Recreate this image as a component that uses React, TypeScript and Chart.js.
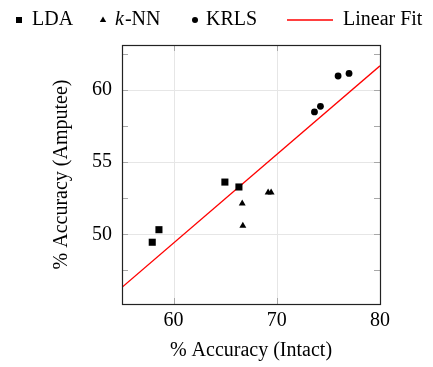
import React, { useEffect, useRef } from 'react';
import { Chart, registerables } from 'chart.js';
Chart.register(...registerables);

const ldaX = [57.93, 58.58, 64.97, 66.33];
const ldaY = [49.45, 50.32, 53.62, 53.28];
const knnX = [66.65, 66.71, 69.16, 69.45];
const knnY = [52.13, 50.6, 52.9, 52.9];
const krlsX = [73.65, 74.23, 75.94, 77.0];
const krlsY = [58.48, 58.87, 60.97, 61.15];
const fitX = [55, 80];
const fitY = [46.33, 61.68];
const xLabelTicks = [60, 70, 80];
const xGridTicks = [60, 70];
const yLabelTicks = [50, 55, 60];
const yMinorTicks = [47.5, 50, 52.5, 55, 57.5, 60, 62.5];
const xRange = [55, 80];
const yRange = [45.17, 63.12];

const FONT = "'Liberation Serif', 'Times New Roman', serif";

const zip = (xs: number[], ys: number[]) => xs.map((x, i) => ({ x, y: ys[i] }));

const framePlugin = {
  id: 'frame',
  beforeDatasetsDraw(chart: any) {
    const { ctx, chartArea, scales } = chart;
    const { left, right, top, bottom } = chartArea;
    const x = scales.x, y = scales.y;
    ctx.save();
    ctx.lineWidth = 1;
    ctx.strokeStyle = '#e6e6e6';
    ctx.beginPath();
    for (const v of xGridTicks) {
      const px = Math.round(x.getPixelForValue(v)) + 0.5;
      ctx.moveTo(px, top); ctx.lineTo(px, bottom);
    }
    for (const v of yLabelTicks) {
      const py = Math.round(y.getPixelForValue(v)) + 0.5;
      ctx.moveTo(left, py); ctx.lineTo(right, py);
    }
    ctx.stroke();
    ctx.strokeStyle = '#a8a8a8';
    ctx.beginPath();
    const tl = 6;
    for (const v of yMinorTicks) {
      const py = Math.round(y.getPixelForValue(v)) + 0.5;
      ctx.moveTo(left, py); ctx.lineTo(left + tl, py);
      ctx.moveTo(right, py); ctx.lineTo(right - tl, py);
    }
    for (const v of xGridTicks) {
      const px = Math.round(x.getPixelForValue(v)) + 0.5;
      ctx.moveTo(px, top); ctx.lineTo(px, top + tl);
      ctx.moveTo(px, bottom); ctx.lineTo(px, bottom - tl);
    }
    ctx.stroke();
    ctx.restore();
  },
  afterDraw(chart: any) {
    const { ctx, chartArea } = chart;
    const { left, right, top, bottom } = chartArea;
    ctx.save();
    ctx.strokeStyle = '#222';
    ctx.lineWidth = 1.2;
    ctx.strokeRect(Math.round(left) + 0.5, Math.round(top) + 0.5, Math.round(right - left), Math.round(bottom - top));
    // legend
    ctx.fillStyle = '#000';
    ctx.font = `20px ${FONT}`;
    ctx.textBaseline = 'alphabetic';
    const by = 25;
    const my = 20;
    // LDA
    ctx.fillRect(16, my - 3, 6, 6);
    ctx.fillText('LDA', 32, by);
    // k-NN
    ctx.beginPath();
    ctx.moveTo(103, my - 3.5);
    ctx.lineTo(106.2, my + 2);
    ctx.lineTo(99.8, my + 2);
    ctx.closePath();
    ctx.fill();
    ctx.font = `italic 20px ${FONT}`;
    ctx.fillText('k', 115, by);
    const kw = ctx.measureText('k').width;
    ctx.font = `20px ${FONT}`;
    ctx.fillText('-NN', 115 + kw + 1, by);
    // KRLS
    ctx.beginPath();
    ctx.arc(195, my, 3, 0, Math.PI * 2);
    ctx.fill();
    ctx.fillText('KRLS', 206, by);
    // Linear fit
    ctx.strokeStyle = '#ff0000';
    ctx.lineWidth = 1.3;
    ctx.beginPath();
    ctx.moveTo(287, my);
    ctx.lineTo(333, my);
    ctx.stroke();
    ctx.fillText('Linear Fit', 343, by);
    ctx.restore();
  },
};

export default function App() {
  const ref = useRef<HTMLCanvasElement | null>(null);
  useEffect(() => {
    document.body.style.margin = '0';
    const canvas = ref.current!;
    const chart = new Chart(canvas, {
      type: 'scatter',
      data: {
        datasets: [
          {
            label: 'Linear Fit',
            type: 'line',
            data: zip(fitX, fitY),
            borderColor: '#ff0000',
            borderWidth: 1.3,
            pointRadius: 0,
            fill: false,
            order: 2,
          } as any,
          {
            label: 'LDA',
            data: zip(ldaX, ldaY),
            pointStyle: 'rect',
            pointRadius: 5,
            backgroundColor: '#000',
            borderColor: '#000',
            borderWidth: 0,
            order: 1,
          },
          {
            label: 'k-NN',
            data: zip(knnX, knnY),
            pointStyle: 'triangle',
            pointRadius: 4,
            backgroundColor: '#000',
            borderColor: '#000',
            borderWidth: 0,
            order: 1,
          },
          {
            label: 'KRLS',
            data: zip(krlsX, krlsY),
            pointStyle: 'circle',
            pointRadius: 3.4,
            backgroundColor: '#000',
            borderColor: '#000',
            borderWidth: 0,
            order: 1,
          },
        ],
      },
      options: {
        responsive: false,
        animation: false,
        devicePixelRatio: 1,
        layout: { padding: { left: 0, right: 53, top: 45, bottom: 0 } },
        plugins: { legend: { display: false }, tooltip: { enabled: false } },
        scales: {
          x: {
            type: 'linear',
            min: xRange[0],
            max: xRange[1],
            grid: { display: false, drawTicks: false },
            border: { display: false },
            afterBuildTicks: (s: any) => { s.ticks = xLabelTicks.map((v) => ({ value: v })); },
            afterFit: (s: any) => { s.height = 63; },
            ticks: { color: '#000', font: { family: FONT, size: 20 }, padding: 5, maxRotation: 0 },
            title: {
              display: true,
              text: '% Accuracy (Intact)',
              color: '#000',
              font: { family: FONT, size: 20 },
              padding: { top: 0, bottom: 4 },
            },
          },
          y: {
            type: 'linear',
            min: yRange[0],
            max: yRange[1],
            grid: { display: false, drawTicks: false },
            border: { display: false },
            afterBuildTicks: (s: any) => { s.ticks = yLabelTicks.map((v) => ({ value: v })); },
            afterFit: (s: any) => { s.width = 122; },
            ticks: { color: '#000', font: { family: FONT, size: 20 }, padding: 10 },
            title: {
              display: true,
              text: '% Accuracy (Amputee)',
              color: '#000',
              font: { family: FONT, size: 20 },
              padding: { top: 50, bottom: 0 },
            },
          },
        },
      },
      plugins: [framePlugin],
    } as any);
    return () => chart.destroy();
  }, []);
  return (
    <div style={{ position: 'absolute', left: 0, top: 0, width: 433, height: 367 }}>
      <canvas ref={ref} width={433} height={367} />
    </div>
  );
}
